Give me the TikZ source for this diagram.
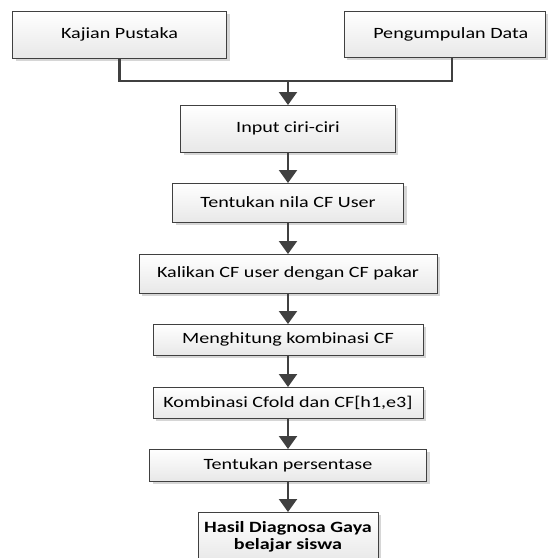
\documentclass[tikz,border=0pt]{standalone}
\usepackage{fontspec}
\setmainfont{Carlito}[FakeStretch=1.28]
\usetikzlibrary{arrows.meta,shadows}
\definecolor{linec}{HTML}{404040}
\begin{document}
\begin{tikzpicture}[x=1pt,y=-1pt,
  box/.style={draw=linec, line width=1pt, top color=white, bottom color=black!9,
    general shadow={fill=black!16, shadow xshift=3pt, shadow yshift=-3pt},
    inner sep=0pt, align=center, font=\fontsize{15.7}{17}\selectfont},
  conn/.style={draw=linec, line width=2.2pt},
  arr/.style={conn, -{Triangle[width=18pt,length=13pt]}, shorten >=-0.5pt}]
\useasboundingbox (0,0) rectangle (548,558);
\clip (0,0) rectangle (548,558);
\node[box, minimum width=214pt, minimum height=47pt] (b1) at (119.5,34.5) {Kajian Pustaka};
\node[box, minimum width=201.5pt, minimum height=46pt] (b2) at (444.75,34) {\hspace*{12pt}Pengumpulan Data};
\node[box, minimum width=214.5pt, minimum height=47pt] (b3) at (288,128.5) {Input ciri-ciri};
\node[box, minimum width=231pt, minimum height=39pt] (b4) at (288,202.5) {Tentukan nila CF User};
\node[box, minimum width=298pt, minimum height=39pt] (b5) at (288,273.5) {Kalikan CF user dengan CF pakar};
\node[box, minimum width=270pt, minimum height=31pt] (b6) at (288,339.5) {Menghitung kombinasi CF};
\node[box, minimum width=270pt, minimum height=31pt] (b7) at (288,402.5) {Kombinasi Cfold dan CF[h1,e3]};
\node[box, minimum width=277pt, minimum height=32pt] (b8) at (288,465) {Tentukan persentase};
\node[box, minimum width=180pt, minimum height=50pt] (b9) at (288,537) {\textbf{Hasil Diagnosa Gaya}\\\textbf{belajar siswa}};
\coordinate (j) at (288,81);
\draw[conn] (b1.south) |- (j) -| ([xshift=7pt]b2.south);
\draw[arr] (j) -- (b3.north);
\draw[arr] (b3.south) -- (b4.north);
\draw[arr] (b4.south) -- (b5.north);
\draw[arr] (b5.south) -- (b6.north);
\draw[arr] (b6.south) -- (b7.north);
\draw[arr] (b7.south) -- (b8.north);
\draw[arr] (b8.south) -- (b9.north);
\end{tikzpicture}
\end{document}
